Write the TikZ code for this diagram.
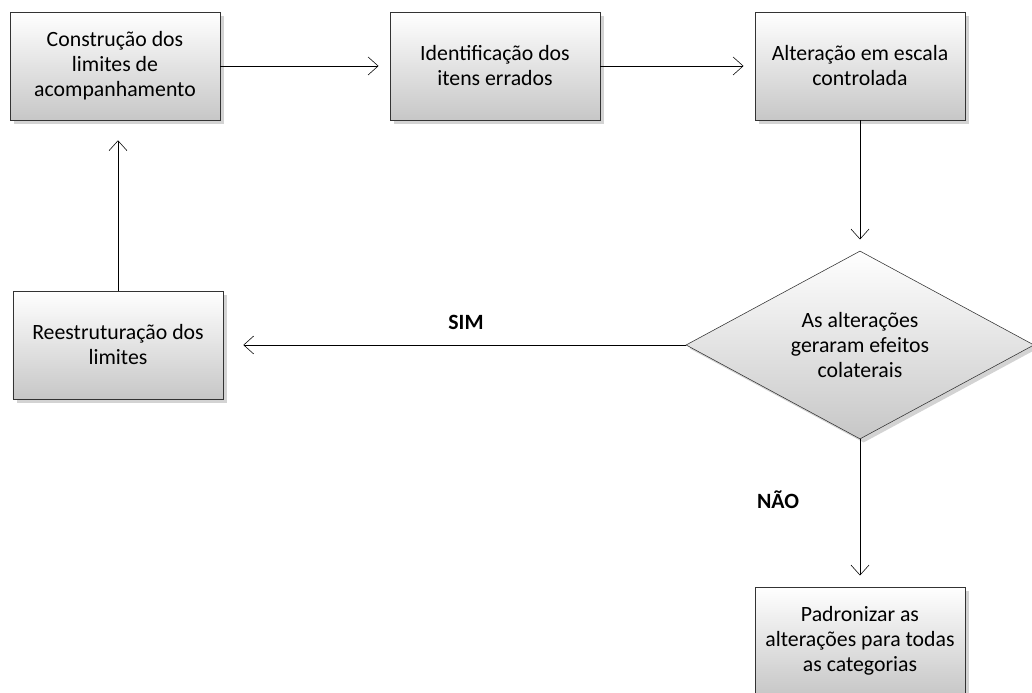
\documentclass[tikz,border=0pt]{standalone}
\usepackage{fontspec}
\setmainfont{Carlito}
\usepackage{tikz}
\usetikzlibrary{shapes.geometric,shadows,arrows.meta}

\begin{document}
\begin{tikzpicture}[step_box/.style={rectangle,draw=black!80,thin,minimum width=5.25cm,minimum height=2.7cm,align=center,top color=white,bottom color=black!22,drop shadow={shadow xshift=0.09cm,shadow yshift=-0.09cm,opacity=0.35},font=\fontsize{15.5}{17.8}\selectfont},
    decision_node/.style={diamond,draw=black!80,thin,minimum width=8.7cm,minimum height=4.7cm,aspect=1.85,inner sep=0pt,align=center,top color=white,bottom color=black!22,drop shadow={shadow xshift=0.09cm,shadow yshift=-0.09cm,opacity=0.35},font=\fontsize{15.5}{17.8}\selectfont},
    answer_label/.style={font=\fontsize{15.5}{17.8}\selectfont\bfseries}]

    \useasboundingbox (0,0) rectangle (25.8,17.325);

    \node[step_box] (0) at (2.875, 15.675) {Construção dos\\limites de\\acompanhamento};
    \node[step_box] (1) at (12.375, 15.675) {Identificação dos\\itens errados};
    \node[step_box] (2) at (21.5, 15.675) {Alteração em escala\\controlada};
    \node[decision_node] (3) at (21.5, 8.7) {As alterações\\geraram efeitos\\colaterais};
    \node[step_box] (4) at (2.95, 8.7) {Reestruturação dos\\limites};
    \node[step_box] (5) at (21.5, 1.3) {Padronizar as\\alterações para todas\\as categorias};

    \node[answer_label] (6) at (11.65, 9.275) {SIM};
    \node[answer_label] (7) at (19.45, 4.825) {NÃO};

    \path[draw, thin, -{Straight Barb[length=2.5mm,width=4.5mm]}, shorten >=0.28cm]
    (0) edge (1)
    (1) edge (2)
    (2) edge (3)
    (3) edge (5)
    ;
    \path[draw, thin, -{Straight Barb[length=2.5mm,width=4.5mm]}, shorten >=0.5cm]
    (3) edge (4)
    (4) edge (0.south -| 4.north)
    ;
    \end{tikzpicture}
\end{document}
